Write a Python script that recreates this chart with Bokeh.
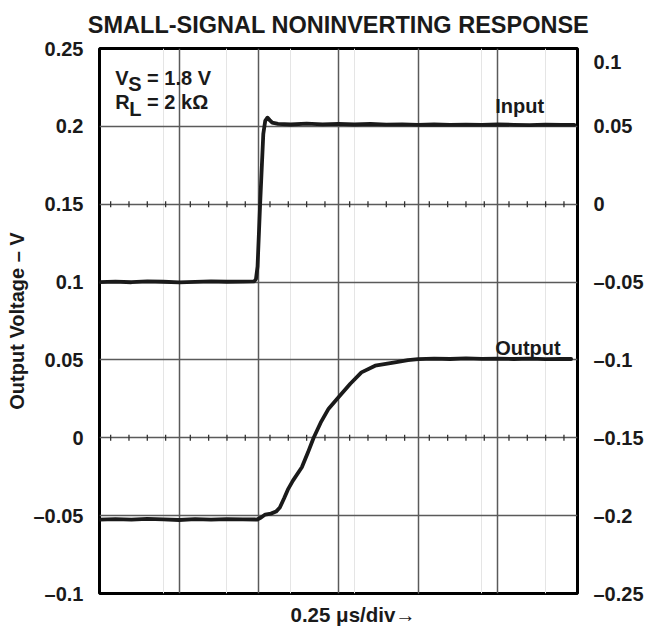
import numpy as np
from bokeh.plotting import figure
from bokeh.models import Range1d, LinearAxis, FixedTicker, Grid, Label, Title
from bokeh.embed import file_html
from bokeh.resources import INLINE

# ---------------- data ----------------
x_ticks = [0.0, 0.25, 0.5, 0.75, 1.0, 1.25, 1.5]          # time, us (0.25 us/div)
left_ticks = [-0.1, -0.05, 0.0, 0.05, 0.1, 0.15, 0.2, 0.25]
left_labels = ["–0.1", "–0.05", "0", "0.05", "0.1", "0.15", "0.2", "0.25"]
right_ticks = [-0.25, -0.2, -0.15, -0.1, -0.05, 0.0, 0.05, 0.1]
right_labels = ["–0.25", "–0.2", "–0.15", "–0.1", "–0.05", "0", "0.05", "\n0.1"]

input_t = [0.00, 0.05, 0.10, 0.15, 0.20, 0.25, 0.30, 0.35, 0.40, 0.45, 0.486,
           0.491, 0.496, 0.504, 0.514, 0.520, 0.527, 0.534, 0.542, 0.56, 0.60,
           0.65, 0.70, 0.75, 0.80, 0.85, 0.90, 0.95, 1.00, 1.05, 1.10, 1.15,
           1.20, 1.25, 1.30, 1.35, 1.40, 1.45, 1.49]
input_v = [0.1000, 0.1003, 0.0999, 0.1004, 0.1002, 0.0998, 0.1001, 0.1004, 0.1002, 0.1003, 0.1005,
           0.1020, 0.1100, 0.1500, 0.1951, 0.2035, 0.2056, 0.2040, 0.2024, 0.2016, 0.2012,
           0.2017, 0.2013, 0.2016, 0.2012, 0.2015, 0.2011, 0.2013, 0.2010, 0.2012, 0.2009, 0.2011,
           0.2010, 0.2012, 0.2010, 0.2008, 0.2011, 0.2009, 0.2010]

output_t = [0.00, 0.05, 0.10, 0.15, 0.20, 0.25, 0.30, 0.35, 0.40, 0.45, 0.495,
            0.507, 0.520, 0.538, 0.554, 0.566, 0.579, 0.591, 0.607, 0.635, 0.654,
            0.672, 0.694, 0.719, 0.750, 0.787, 0.822, 0.865, 0.927, 0.968, 1.00,
            1.05, 1.10, 1.15, 1.20, 1.25, 1.30, 1.35, 1.40, 1.45, 1.48]
output_v = [-0.0525, -0.0522, -0.0526, -0.0521, -0.0524, -0.0528, -0.0523, -0.0525, -0.0522, -0.0524, -0.0525,
            -0.0512, -0.0493, -0.0487, -0.0474, -0.0448, -0.0390, -0.0333, -0.0275, -0.0189, -0.0095,
            0.0000, 0.0097, 0.0187, 0.0260, 0.0347, 0.0420, 0.0463, 0.0484, 0.0499, 0.0505,
            0.0508, 0.0506, 0.0510, 0.0507, 0.0509, 0.0506, 0.0508, 0.0505, 0.0507, 0.0506]

minor_lines = [0.15, 0.0]                     # graticule centre lines carrying minor ticks
minor_frac = [0.14, 0.37, 0.60, 0.83]         # minor tick positions within a division

# ---------------- layout ----------------
W, H = 646, 633
FL, FT = 99, 48
FW, FH = 482, 545
FR, FB = W - FL - FW, H - FT - FH
X0, X1 = 0.0, 1.5
Y0, Y1 = -0.1, 0.25

def dx(px):  # page px -> data x
    return X0 + (px - FL) / FW * (X1 - X0)

def dy(py):  # page px -> data y (left axis)
    return Y1 - (py - FT) / FH * (Y1 - Y0)

FONT = "Liberation Sans"
INK = "#1a1a1a"

p = figure(width=W, height=H, x_range=Range1d(X0, X1), y_range=Range1d(Y0, Y1),
           x_axis_location=None, y_axis_location="left",
           output_backend="svg", toolbar_location=None,
           min_border_left=FL, min_border_right=FR, min_border_top=FT, min_border_bottom=FB)
p.background_fill_color = "white"
p.border_fill_color = "white"
p.outline_line_color = "black"
p.outline_line_width = 3

def style_axis(ax, ticks, labels):
    ax.ticker = FixedTicker(ticks=ticks)
    ax.major_label_overrides = {t: s for t, s in zip(ticks, labels)}
    ax.axis_line_color = None
    ax.major_tick_line_color = None
    ax.minor_tick_line_color = None
    ax.major_label_standoff = 10
    ax.major_label_text_font = FONT
    ax.major_label_text_font_style = "bold"
    ax.major_label_text_font_size = "20px"
    ax.major_label_text_color = INK

style_axis(p.yaxis[0], left_ticks, left_labels)

p.extra_y_ranges = {"r": Range1d(-0.25, 0.1)}
ra = LinearAxis(y_range_name="r")
style_axis(ra, right_ticks, right_labels)
p.add_layout(ra, "right")

for g in p.ygrid:
    g.ticker = FixedTicker(ticks=left_ticks)
    g.grid_line_color = "#5a5a5a"
    g.grid_line_width = 1.5
p.add_layout(Grid(dimension=0, ticker=FixedTicker(ticks=x_ticks),
                  grid_line_color="#5a5a5a", grid_line_width=1.5))

# minor ticks on centre lines
mx, my0, my1 = [], [], []
half = 3.0 / FH * (Y1 - Y0)
for yv in minor_lines:
    for k in range(len(x_ticks) - 1):
        for f in minor_frac:
            xv = x_ticks[k] + f * (x_ticks[k + 1] - x_ticks[k])
            mx.append(xv); my0.append(yv - half); my1.append(yv + half)
p.segment(x0=mx, y0=my0, x1=mx, y1=my1, line_color="#333333", line_width=1.3)

p.line(input_t, input_v, line_width=3.8, line_color=INK, line_join="round", line_cap="round")
p.line(output_t, output_v, line_width=3.8, line_color=INK, line_join="round", line_cap="round")

# titles / axis names (side panels, not clipped)
def side_title(text, place, size, align="center", valign="bottom", offset=0, standoff=10):
    t = Title(text=text, align=align, vertical_align=valign, offset=offset, standoff=standoff,
              text_font=FONT, text_font_style="bold", text_font_size=size, text_color=INK)
    p.add_layout(t, place)

side_title("SMALL-SIGNAL NONINVERTING RESPONSE", "above", "23.5px", valign="top", standoff=18)
side_title("0.25 μs/div→", "below", "20.5px", align="left", valign="bottom", offset=191, standoff=14)
side_title("Output Voltage – V", "left", "20px", standoff=5)

def lab(text, px, py, size="20px", align="left", baseline="alphabetic"):
    p.add_layout(Label(x=dx(px), y=dy(py), text=text, text_font=FONT, text_font_style="bold",
                       text_font_size=size, text_color=INK, text_align=align,
                       text_baseline=baseline))

lab("V", 115, 77); lab("S", 128, 83); lab("= 1.8 V", 147, 77)
lab("R", 115, 101); lab("L", 129, 108); lab("= 2 kΩ", 147, 101)
lab("Input", 498, 105)
lab("Output", 498, 347)

open("out.html", "w").write(file_html(p, INLINE))
